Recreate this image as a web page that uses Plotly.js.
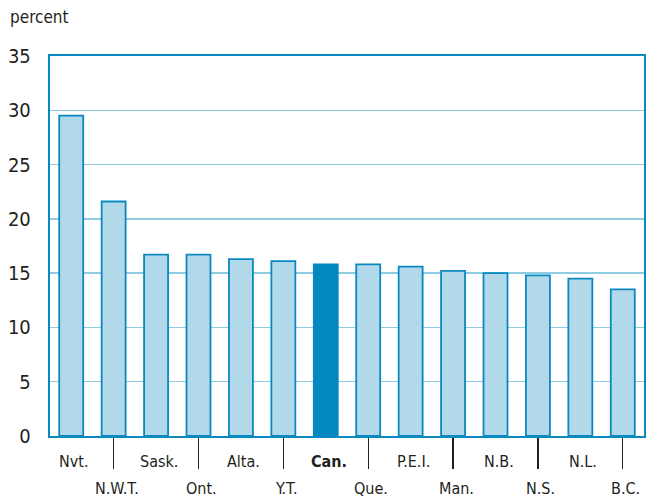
<!DOCTYPE html>
<html>
<head>
<meta charset="utf-8">
<script src="https://cdn.plot.ly/plotly-3.0.1.min.js"></script>
<style>html,body{margin:0;padding:0;background:#fff;}#chart{width:647px;height:498px;}</style>
</head>
<body>
<div id="chart"></div>
<script>
var categories = ["Nvt.", "N.W.T.", "Sask.", "Ont.", "Alta.", "Y.T.", "Can.", "Que.", "P.E.I.", "Man.", "N.B.", "N.S.", "N.L.", "B.C."];
var values = [29.5, 21.6, 16.7, 16.7, 16.3, 16.1, 15.8, 15.8, 15.6, 15.2, 15.0, 14.8, 14.5, 13.5];
var yTicks = [0, 5, 10, 15, 20, 25, 30, 35];
var highlight = "Can.";

var FONT = "'DejaVu Sans Condensed', 'Liberation Sans Narrow', 'Arial Narrow', sans-serif";
var BLUE = "#0a89c1";
var LIGHT = "#b1d9ea";

var fills = categories.map(function(c){ return c === highlight ? "#0088bf" : LIGHT; });

var trace = {
  type: "bar",
  x: categories,
  y: values,
  width: 0.565,
  marker: {color: fills, line: {color: BLUE, width: 1.8}},
  hoverinfo: "x+y"
};

var oddCats = categories.filter(function(c, i){ return i % 2 === 1; });

var annotations = categories.map(function(c, i){
  return {
    x: c, xref: "x", yref: "paper",
    y: i % 2 === 0 ? -0.037 : -0.108,
    yanchor: "top", xanchor: "center", xshift: 3,
    showarrow: false,
    text: c === highlight ? "<b>" + c + "</b>" : c,
    font: {family: FONT, size: 16, color: "#231f20"}
  };
});
annotations.push({
  xref: "paper", yref: "paper", x: -0.07, y: 1.07,
  xanchor: "left", yanchor: "bottom", showarrow: false,
  text: "percent", font: {family: FONT, size: 17, color: "#231f20"}
});

var layout = {
  width: 647, height: 498,
  margin: {l: 50, r: 3, t: 56, b: 62},
  paper_bgcolor: "#fff", plot_bgcolor: "#fff",
  showlegend: false,
  xaxis: {
    type: "category",
    range: [-0.5, 13.5],
    tickmode: "array",
    tickvals: oddCats,
    ticktext: oddCats.map(function(){ return ""; }),
    ticks: "outside", ticklen: 31, tickwidth: 1.2, tickcolor: "#231f20",
    showgrid: false, zeroline: false,
    showline: true, mirror: true, linecolor: BLUE, linewidth: 2.2,
    fixedrange: true
  },
  yaxis: {
    range: [0, 35],
    tickmode: "array", tickvals: yTicks, ticktext: yTicks.map(String),
    ticks: "", ticklabelstandoff: 13,
    tickfont: {family: FONT, size: 20, color: "#231f20"},
    showgrid: true, gridcolor: "#8fcbe3", gridwidth: 1.5,
    zeroline: false,
    showline: true, mirror: true, linecolor: BLUE, linewidth: 2.2,
    fixedrange: true
  },
  annotations: annotations
};

Plotly.newPlot("chart", [trace], layout, {displayModeBar: false, staticPlot: true});
</script>
</body>
</html>
